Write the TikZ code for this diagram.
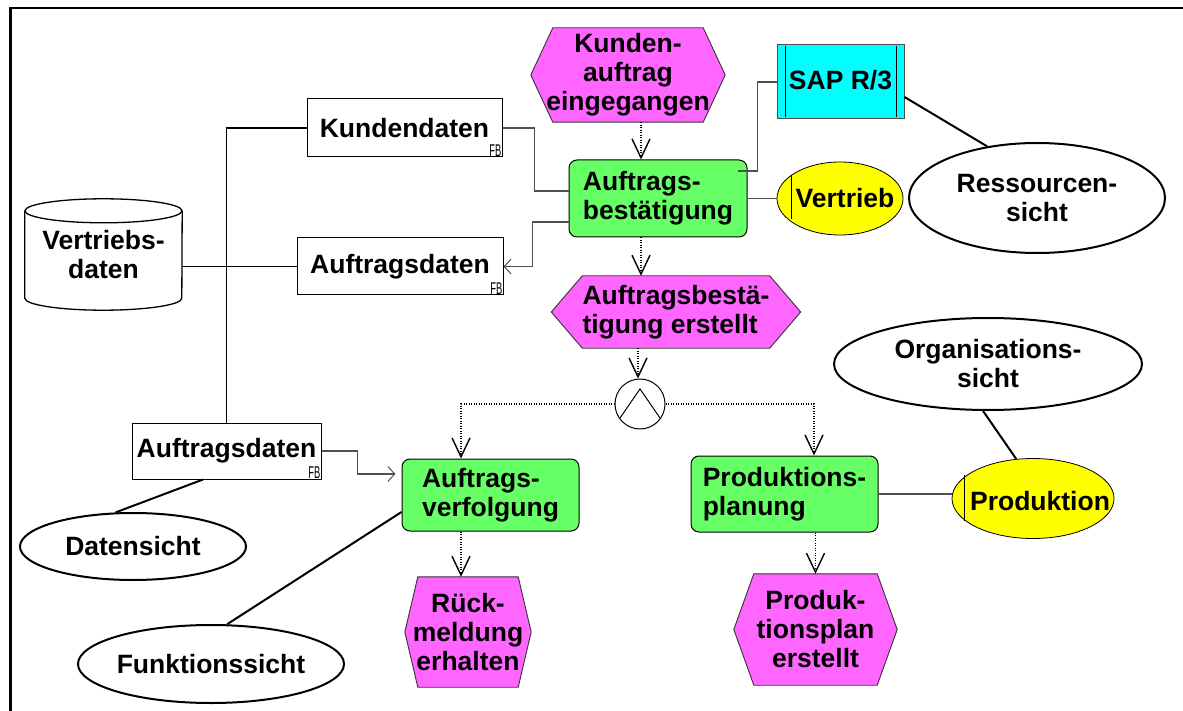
\documentclass[tikz,border=0pt]{standalone}
\usepackage{fontspec}
\usepackage{graphicx}
\setmainfont{Liberation Sans}
\usetikzlibrary{arrows.meta,shapes.geometric,backgrounds}
\definecolor{evmag}{HTML}{FF66FF}
\definecolor{fngreen}{HTML}{66FF66}
\definecolor{orgyellow}{HTML}{FFFF00}
\definecolor{syscyan}{HTML}{00FFFF}
\definecolor{conngray}{HTML}{505050}
\tikzset{
  x=1pt, y=-1pt,
  every node/.style={font=\fontsize{26.5}{29}\selectfont\bfseries},
  evt/.style={inner sep=0pt, align=center},
  hexshape/.style={fill=evmag, draw=black!80, line width=0.9pt},
  fct/.style={draw=black, line width=1pt, fill=fngreen, rounded corners=8pt, align=left, inner sep=0pt},
  dat/.style={draw=black, line width=1pt, fill=white, inner sep=0pt},
  fbmark/.style={anchor=south east, inner sep=1pt, font=\fontsize{17}{17}\selectfont\mdseries},
  sysbox/.style={draw=black!70, line width=1pt, fill=syscyan, inner sep=0pt},
  orgunit/.style={ellipse, draw=black, line width=0.8pt, fill=orgyellow, inner sep=0pt},
  view/.style={ellipse, draw=black, line width=2pt, fill=white, inner sep=0pt},
  andop/.style={circle, draw=black, line width=1pt, minimum size=50pt, inner sep=0pt},
  flow/.style={dash pattern=on 1pt off 1.5pt, line width=1.1pt, -{Straight Barb[length=19pt,width=18pt,line width=1.4pt]}},
  dline/.style={line width=1.3pt, black},
  gline/.style={line width=1.1pt, conngray},
  smallarrow/.style={-{Straight Barb[length=7pt,width=15pt,line width=1pt]}},
  vline/.style={line width=2pt, black},
  frameline/.style={line width=2.7pt, black}
}
\newcommand{\hexbg}[2]{%
  \path[hexshape] (#1.west) -- ([xshift=#2pt]#1.north west) -- ([xshift=-#2pt]#1.north east)
    -- (#1.east) -- ([xshift=-#2pt]#1.south east) -- ([xshift=#2pt]#1.south west) -- cycle;}
\begin{document}
\begin{tikzpicture}
\useasboundingbox (0,0) rectangle (1183,711);
\draw[frameline] (1183,8) -- (10.3,8) -- (10.3,711);

% events
\node[evt, minimum width=194pt, minimum height=94pt] (ka) at (628,75) {Kunden-\\auftrag\\eingegangen};
\node[evt, minimum width=249pt, minimum height=72pt, align=left] (ae) at (676,312) {Auftragsbestä-\\tigung erstellt};
\node[evt, minimum width=126pt, minimum height=110pt] (rm) at (468,632) {Rück-\\meldung\\erhalten};
\node[evt, minimum width=163pt, minimum height=111pt] (pe) at (815.5,629.5) {Produk-\\tionsplan\\erstellt};
\begin{scope}[on background layer]
  \hexbg{ka}{22}
  \hexbg{ae}{31}
  \hexbg{rm}{13}
  \hexbg{pe}{20}
\end{scope}

% functions
\node[fct, minimum width=178pt, minimum height=77pt] (ab) at (658,198.5) {Auftrags-\\bestätigung};
\node[fct, minimum width=177pt, minimum height=72pt] (av) at (490.5,495) {Auftrags-\\verfolgung};
\node[fct, minimum width=187pt, minimum height=76pt] (pp) at (784.5,494) {Produktions-\\planung};

% connector
\node[andop] (and) at (640,404) {};
\draw[line width=1pt] ([shift={(-20,14)}]and.center) -- ([shift={(0,-15)}]and.center) -- ([shift={(20,14)}]and.center);

% data
\node[dat, minimum width=195pt, minimum height=58pt] (kd) at (404.5,128) {Kundendaten};
\node[dat, minimum width=206pt, minimum height=57pt] (adu) at (400,266.5) {Auftragsdaten};
\node[dat, minimum width=189pt, minimum height=56pt] (adl) at (226.5,451) {Auftragsdaten};
\node[fbmark] (fb1) at (kd.south east) {\scalebox{0.55}[1]{FB}};
\node[fbmark] (fb2) at (adu.south east) {\scalebox{0.55}[1]{FB}};
\node[fbmark] (fb3) at (adl.south east) {\scalebox{0.55}[1]{FB}};

% database cylinder
\node[inner sep=0pt, minimum width=157pt, minimum height=111pt, align=center] (vd) at (103.5,254.5) {Vertriebs-\\daten};
\draw[dline] ([yshift=-12pt]vd.north west) -- ([yshift=12pt]vd.south west)
  arc[start angle=180, end angle=360, x radius=78.5pt, y radius=12pt] -- ([yshift=-12pt]vd.north east);
\draw[dline] ([yshift=-12pt]vd.north) ellipse [x radius=78.5pt, y radius=12pt];

% system
\node[sysbox, minimum width=127pt, minimum height=74pt] (sap) at (840.5,82) {\raisebox{5pt}{SAP R/3}};
\draw[line width=0.8pt] ([shift={(9,2)}]sap.north west) -- ([shift={(9,-2)}]sap.south west);
\draw[line width=0.8pt] ([shift={(-8,2)}]sap.north east) -- ([shift={(-8,-2)}]sap.south east);

% organisational units
\node[orgunit, minimum width=126pt, minimum height=73pt, label={[xshift=5pt]center:Vertrieb}] (vb) at (840,198.5) {};
\draw[line width=0.8pt] ([shift={(-49,-23)}]vb.center) -- ([shift={(-49,21)}]vb.center);
\node[orgunit, minimum width=162pt, minimum height=80pt, label={[xshift=7pt, yshift=-3pt]center:Produktion}] (pr) at (1033,498.5) {};
\draw[line width=0.8pt] ([shift={(-69,-24)}]pr.center) -- ([shift={(-69,22)}]pr.center);

% views
\node[view, minimum width=256pt, minimum height=110pt, label={[align=center]center:{Ressourcen-\\sicht}}] (rs) at (1037,198) {};
\node[view, minimum width=308pt, minimum height=92pt, label={[align=center]center:{Organisations-\\sicht}}] (os) at (988,364) {};
\node[view, minimum width=226pt, minimum height=67pt, label={center:Datensicht}] (ds) at (133,546.5) {};
\node[view, minimum width=266pt, minimum height=78pt, label={center:Funktionssicht}] (fs) at (211,664) {};

% data connections
\draw[dline] (kd.west) -| (adl.north);
\draw[dline] (vd.east |- adu.west) -- (adu.west);
\draw[gline] (kd.east) -- ++(32,0) |- ([yshift=7.5pt]ab.west);
\draw[gline, smallarrow] ([yshift=-23.5pt]ab.west) -- ++(-36,0) |- (adu.east);
\draw[gline] ([shift={(-10,-27.5)}]ab.east) -- ++(20,0) |- (sap.west);
\draw[gline] (ab.east) -- (vb.west);
\draw[gline, smallarrow, shorten >=6pt] (adl.east) -- ++(36,0) |- ([yshift=21pt]av.west);
\draw[gline] (pp.east) -- (pp.east -| pr.west);

% view links
\draw[vline] ([yshift=-15pt]sap.east) -- (rs.134);
\draw[vline] ([xshift=-23.5pt]adl.south) -- (ds.117);
\draw[vline] ([yshift=-17pt]av.west) -- (fs.68);
\draw[vline] (os.264) -- (pr.113);

% control flow
\draw[flow] ([xshift=13pt]ka.south) -- ([xshift=-17pt]ab.north);
\draw[flow] ([xshift=-17pt]ab.south) -- ([xshift=-35pt]ae.north);
\draw[flow] ([xshift=-38pt]ae.south) -- ([xshift=-2pt]and.north);
\draw[flow] (and.west) -| ([xshift=-29.5pt]av.north);
\draw[flow] (and.east) -| ([xshift=29.5pt]pp.north);
\draw[flow] ([xshift=-29.5pt]av.south) -- ([xshift=-7pt]rm.north);
\draw[flow] ([xshift=31pt]pp.south) -- (pe.north);
\end{tikzpicture}
\end{document}
